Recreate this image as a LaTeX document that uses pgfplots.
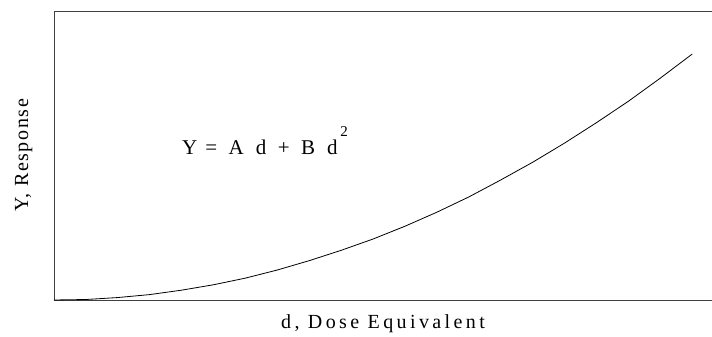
\documentclass[border=0pt]{standalone}
\usepackage{fontspec}
\setmainfont{Liberation Serif}
\newfontfamily\xlabfont[LetterSpace=17]{Liberation Serif}
\newfontfamily\ylabfont[LetterSpace=8]{Liberation Serif}
\usepackage{pgfplots}
\pgfplotsset{compat=1.18}

\begin{document}
\begin{tikzpicture}
\begin{axis}[
    name=ax,
    scale only axis,
    width=658pt, height=289pt,
    xmin=0, xmax=1.031,
    ymin=0, ymax=1.175,
    axis x line*=box,
    axis y line*=left,
    axis line style={black!75, line width=0.9pt},
    ticks=none,
    xlabel={d, Dose Equivalent},
    ylabel={Y, Response},
    xlabel style={at={(axis description cs:0.5,-0.1003)}, anchor=base,
      inner sep=0pt, font=\fontsize{20}{24}\xlabfont},
    ylabel style={at={(axis description cs:-0.0395,0.5)}, anchor=base,
      inner sep=0pt, font=\fontsize{20}{24}\ylabfont},
    clip=false,
]
% Y = A d + B d^2
\addplot[black, line width=0.8pt] coordinates {
    (0,0) (0.05,0.002) (0.10,0.010) (0.15,0.022) (0.20,0.040)
    (0.25,0.062) (0.30,0.089) (0.35,0.122) (0.40,0.160) (0.45,0.202)
    (0.50,0.248) (0.55,0.300) (0.60,0.357) (0.65,0.419) (0.70,0.488)
    (0.75,0.560) (0.80,0.638) (0.85,0.721) (0.90,0.808) (0.95,0.902)
    (1.00,1.000)
};
\node[anchor=base west, inner sep=0pt, font=\fontsize{21}{25}\selectfont]
    at (axis cs:0.2006,0.5935)
    {Y\hspace{8pt}=\hspace{11.5pt}A\hspace{12pt}d\hspace{11.5pt}+\hspace{11.5pt}B\hspace{12pt}d\hspace{2.5pt}\raisebox{18pt}{\fontsize{15}{15}\selectfont 2}};
\end{axis}
\pgfresetboundingbox
\path[use as bounding box] ([shift={(-54pt,-37pt)}]ax.south west)
    rectangle ([shift={(0pt,11pt)}]ax.north east);
\end{tikzpicture}
\end{document}
